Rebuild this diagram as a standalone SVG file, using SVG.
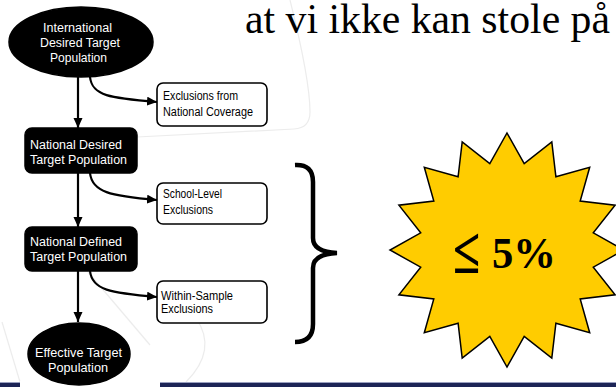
<svg xmlns="http://www.w3.org/2000/svg" width="616" height="387" viewBox="0 0 616 387">
<style>
.bg{fill:none;stroke:#ececec;stroke-width:1.2}
.dark{fill:#000;stroke:#000;stroke-width:1.5}
.light{fill:#fff;stroke:#000;stroke-width:1.6}
.wt{font-family:"Liberation Sans",Arial,sans-serif;font-size:12.5px;fill:#fff}
.bt{font-family:"Liberation Sans",Arial,sans-serif;font-size:12.5px;fill:#000}
.conn{fill:none;stroke:#000;stroke-width:2.2}
.title{font-family:"Liberation Serif","Times New Roman",serif;font-size:42px;fill:#000}
.pct{font-family:"Liberation Serif","Times New Roman",serif;font-size:45px;font-weight:bold;fill:#000}
</style>
<defs>
<marker id="ah" markerUnits="userSpaceOnUse" markerWidth="11" markerHeight="10" refX="10" refY="4.5" orient="auto">
<path d="M0,0 L10,4.5 L0,9 z" fill="#000"/>
</marker>
</defs>
<rect width="616" height="387" fill="#fff"/>
<g id="background">
<path class="bg" d="M290,0 C300,40 310,85 310,112 Q310,128 294,129 L137,137"/>
<path class="bg" d="M88,272 L150,345"/>
<path class="bg" d="M196,318 Q218,350 186,382"/>
<path class="bg" d="M2,322 L20,382"/>
<rect x="0" y="382" width="616" height="1" fill="#9aa0c0"/>
<rect x="0" y="383" width="616" height="4" fill="#1c2456"/>
<rect x="20" y="381" width="140" height="6" fill="#fff"/>
</g>
<g id="title">
<text class="title" x="245" y="33" textLength="365" lengthAdjust="spacingAndGlyphs">at vi ikke kan stole på</text>
</g>
<g id="connectors">
<path class="conn" d="M78,77 L78,128" marker-end="url(#ah)"/>
<path class="conn" d="M78,173 L78,227" marker-end="url(#ah)"/>
<path class="conn" d="M78,271 L78,322" marker-end="url(#ah)"/>
<path class="conn" d="M90,77 C92,96 110,98 157,102" marker-end="url(#ah)"/>
<path class="conn" d="M90,173 C92,192 110,196 157,200" marker-end="url(#ah)"/>
<path class="conn" d="M90,271 C92,290 110,293 157,297" marker-end="url(#ah)"/>
</g>
<g id="n-international">
<ellipse class="dark" cx="81" cy="42" rx="72" ry="35"/>
<text class="wt" x="43" y="32" textLength="69" lengthAdjust="spacingAndGlyphs">International</text>
<text class="wt" x="40" y="47" textLength="80" lengthAdjust="spacingAndGlyphs">Desired Target</text>
<text class="wt" x="50" y="62" textLength="57" lengthAdjust="spacingAndGlyphs">Population</text>
</g>
<g id="n-national-desired">
<rect class="dark" x="25" y="128" width="112" height="45" rx="7"/>
<text class="wt" x="30" y="149" textLength="92" lengthAdjust="spacingAndGlyphs">National Desired</text>
<text class="wt" x="30" y="164" textLength="97" lengthAdjust="spacingAndGlyphs">Target Population</text>
</g>
<g id="n-national-defined">
<rect class="dark" x="25" y="227" width="112" height="44" rx="7"/>
<text class="wt" x="30" y="246" textLength="92" lengthAdjust="spacingAndGlyphs">National Defined</text>
<text class="wt" x="30" y="261" textLength="97" lengthAdjust="spacingAndGlyphs">Target Population</text>
</g>
<g id="n-effective">
<ellipse class="dark" cx="79" cy="354" rx="51" ry="31"/>
<text class="wt" x="35" y="357" textLength="87" lengthAdjust="spacingAndGlyphs">Effective Target</text>
<text class="wt" x="48" y="372" textLength="60" lengthAdjust="spacingAndGlyphs">Population</text>
</g>
<g id="n-excl-national">
<rect class="light" x="157" y="83" width="110" height="43" rx="6"/>
<text class="bt" x="163" y="100" textLength="75" lengthAdjust="spacingAndGlyphs">Exclusions from</text>
<text class="bt" x="163" y="116" textLength="90" lengthAdjust="spacingAndGlyphs">National Coverage</text>
</g>
<g id="n-excl-school">
<rect class="light" x="157" y="183" width="110" height="41" rx="6"/>
<text class="bt" x="163" y="198" textLength="59" lengthAdjust="spacingAndGlyphs">School-Level</text>
<text class="bt" x="163" y="214" textLength="50" lengthAdjust="spacingAndGlyphs">Exclusions</text>
</g>
<g id="n-excl-within">
<rect class="light" x="157" y="281" width="110" height="42" rx="6"/>
<text class="bt" x="161" y="300" textLength="72" lengthAdjust="spacingAndGlyphs">Within-Sample</text>
<text class="bt" x="161" y="313" textLength="52" lengthAdjust="spacingAndGlyphs">Exclusions</text>
</g>
<g id="brace">
<path d="M295,165 Q313,164 313,182 L313,238 Q313,252 337,253 Q313,254 313,268 L313,324 Q313,342 295,342" fill="none" stroke="#000" stroke-width="4.5"/>
</g>
<g id="star">
<polygon fill="#FFCC00" stroke="#000" stroke-width="1.5" points="507,133 524.2,163.7 551.8,141.9 555.9,176.8 589.7,167.3 580.2,201.1 615.1,205.2 593.3,232.8 624,250 593.3,267.2 615.1,294.8 580.2,298.9 589.7,332.7 555.9,323.2 551.8,358.1 524.2,336.3 507,367 489.8,336.3 462.2,358.1 458.1,323.2 424.3,332.7 433.8,298.9 398.9,294.8 420.7,267.2 390,250 420.7,232.8 398.9,205.2 433.8,201.1 424.3,167.3 458.1,176.8 462.2,141.9 489.8,163.7"/>
<text class="pct" transform="translate(453,273) scale(1.1,1.45)">≤</text>
<text class="pct" x="492" y="268" textLength="64" lengthAdjust="spacingAndGlyphs">5%</text>
</g>
</svg>
